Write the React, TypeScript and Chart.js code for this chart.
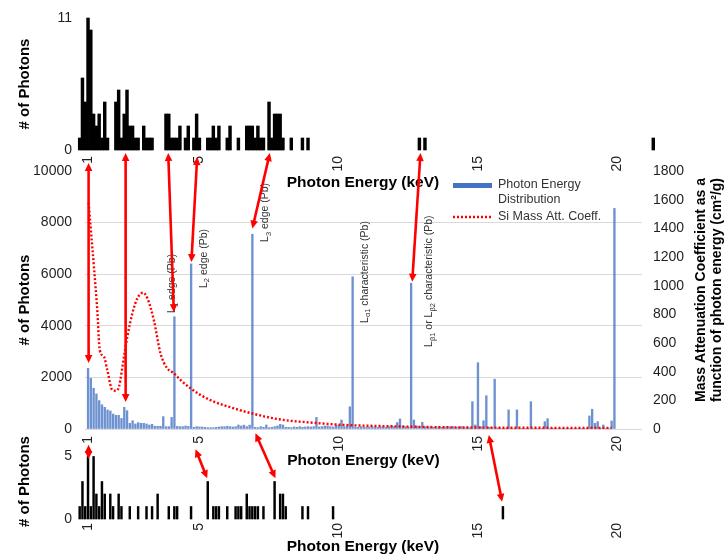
import { useEffect, useRef } from "react";
import { Chart, registerables } from "chart.js";

Chart.register(...registerables);

const WIDTH = 725;
const HEIGHT = 559;
const FONT = "'Liberation Sans', Arial, Helvetica, sans-serif";
const TICK_COLOR = "#1f1f1f";
const TITLE_COLOR = "#000000";
const NOTE_COLOR = "#333333";
const BLUE = "#4472C4";
const BAR_BLUE = "rgba(68,114,196,0.78)";
const RED = "#FF0000";

// Tick positions shared by the three energy axes (keV)
const energyTicks = [1, 5, 10, 15, 20];

// Photon energy distribution: counts per 0.1 keV bin, first bin at 1.0 keV
const spectrumStartKeV = 1.0;
const spectrumBinKeV = 0.1;
const photonCounts = [
  2350, 1965, 1580, 1360, 1100, 940, 840, 740, 700, 580,
  530, 530, 410, 840, 710, 220, 320, 195, 245, 220,
  220, 195, 155, 180, 105, 105, 105, 480, 90, 90,
  450, 4350, 100, 90, 90, 115, 100, 6400, 65, 90,
  78, 78, 65, 52, 52, 52, 65, 78, 90, 90,
  103, 90, 78, 90, 155, 116, 150, 90, 150, 7550,
  65, 52, 90, 65, 155, 52, 65, 90, 116, 180,
  155, 65, 65, 52, 78, 65, 90, 65, 78, 90,
  78, 90, 450, 78, 90, 116, 116, 90, 78, 150,
  150, 350, 90, 116, 860, 5900, 78, 65, 90, 78,
  65, 78, 90, 78, 65, 90, 78, 65, 90, 116,
  100, 250, 390, 116, 90, 78, 5650, 350, 116, 90,
  260, 90, 78, 90, 65, 78, 90, 65, 78, 90,
  78, 90, 65, 78, 90, 65, 78, 52, 1060, 155,
  2570, 90, 320, 1290, 65, 52, 1930, 40, 30, 30,
  30, 740, 30, 20, 740, 20, 30, 20, 30, 1060,
  20, 30, 20, 20, 285, 400, 20, 30, 20, 20,
  20, 20, 30, 20, 20, 20, 20, 20, 30, 20,
  505, 765, 220, 285, 30, 155, 20, 20, 310, 8550,
];

// Si mass attenuation coefficient (cm^2/g) against photon energy (keV)
const siEnergy = [
  1.02, 1.09, 1.21, 1.33, 1.42, 1.57, 1.69, 1.87, 1.99, 2.11, 2.29, 2.41,
  2.59, 2.77, 2.98, 3.13, 3.36, 3.6, 3.84, 4.08, 4.32, 4.68, 5.04, 5.52,
  6.24, 6.64, 7.85, 9.05, 10.25, 11.44, 13.84, 16.0, 18.0, 19.8,
];
const siMassAtt = [
  1580, 1412, 1133, 830, 551, 505, 412, 272, 267, 295, 505, 644,
  807, 912, 951, 912, 761, 528, 424, 389, 342, 284, 237, 191,
  144, 121, 68, 44, 28, 21, 12, 9, 8, 7,
];

// Upper histogram (counts per 0.1 keV)
const upperEnergy = [
  0.7, 0.8, 0.9, 1.0, 1.1, 1.2, 1.3, 1.4, 1.5, 1.6, 1.7,
  2.0, 2.1, 2.2, 2.3, 2.4, 2.5, 2.6, 2.7, 2.8,
  3.0, 3.1, 3.2, 3.3, 3.8, 3.9, 4.0, 4.1, 4.2, 4.3,
  4.5, 4.6, 4.8, 4.9, 5.0, 5.3, 5.4, 5.5, 5.6, 5.7,
  6.0, 6.1, 6.4, 6.7, 6.8, 6.9, 7.0, 7.1, 7.2, 7.3,
  7.5, 7.6, 7.7, 7.8, 7.9, 8.0, 8.3, 8.7, 8.9,
  12.9, 13.1, 21.3,
];
const upperCounts = [
  1, 6, 4, 11, 10, 3, 2, 3, 1, 4, 1,
  4, 5, 1, 3, 5, 2, 2, 1, 1,
  2, 1, 1, 1, 3, 3, 1, 1, 1, 2,
  1, 2, 1, 3, 1, 1, 1, 2, 1, 2,
  1, 2, 1, 2, 2, 2, 1, 2, 1, 1,
  4, 1, 3, 3, 3, 1, 1, 1, 1,
  1, 1, 1,
];

// Lower histogram (counts per 0.1 keV)
const lowerEnergy = [
  0.7, 0.8, 0.9, 1.0, 1.1, 1.2, 1.3, 1.4, 1.5, 1.6, 1.8, 1.9,
  2.1, 2.2, 2.5, 2.8, 3.1, 3.3, 3.5, 3.9, 4.1, 4.2, 4.7,
  5.3, 5.5, 5.6, 5.7, 6.0, 6.3, 6.4, 6.5, 6.7, 6.8, 6.9, 7.0, 7.1, 7.3,
  7.7, 7.9, 8.0, 8.1, 8.7, 8.9, 9.8, 15.9,
];
const lowerCounts = [
  1, 3, 1, 5, 1, 5, 2, 1, 3, 2, 2, 1,
  2, 1, 1, 1, 1, 1, 2, 1, 1, 1, 1,
  3, 1, 1, 1, 1, 1, 1, 1, 2, 1, 1, 1, 1, 1,
  3, 2, 2, 1, 1, 1, 1, 1,
];

type Seg = [string, "" | "sub"];

// Rotated notes beside the Pb lines (anchored at keV / count of the text start)
const lineNotes: { keV: number; count: number; parts: Seg[] }[] = [
  { keV: 4.03, count: 4500, parts: [["L", ""], ["1", "sub"], [" edge (Pb)", ""]] },
  { keV: 5.15, count: 5465, parts: [["L", ""], ["2", "sub"], [" edge (Pb)", ""]] },
  { keV: 7.37, count: 7250, parts: [["L", ""], ["3", "sub"], [" edge (Pb)", ""]] },
  { keV: 10.93, count: 4110, parts: [["L", ""], ["α1", "sub"], [" characteristic (Pb)", ""]] },
  {
    keV: 13.26,
    count: 3180,
    parts: [["L", ""], ["β1", "sub"], [" or L", ""], ["β2", "sub"], [" characteristic (Pb)", ""]],
  },
];

// Double-headed connectors between panels: [panel, keV, value]
type End = ["upper" | "main" | "lower", number, number];
const connectors: [End, End][] = [
  [["upper", 1.02, -1.08], ["main", 1.02, 2560]],
  [["upper", 2.35, -0.25], ["main", 2.35, 1050]],
  [["upper", 3.88, -0.25], ["main", 4.08, 4530]],
  [["upper", 4.92, -0.58], ["main", 4.71, 6470]],
  [["upper", 7.53, -0.25], ["main", 6.9, 7770]],
  [["upper", 12.94, -0.25], ["main", 12.64, 5710]],
  [["lower", 1.02, 5.95], ["lower", 1.02, 4.8]],
  [["lower", 4.86, 5.58], ["lower", 5.28, 3.26]],
  [["main", 7.01, -167], ["lower", 7.73, 3.26]],
  [["main", 15.39, -233], ["lower", 15.87, 1.38]],
];

const plainNumber = (v: any) => String(v);

function energyAxis(min: number, max: number, tickPad: number, height: number, titlePad: number) {
  return {
    type: "linear",
    min,
    max,
    offset: false,
    afterBuildTicks: (s: any) => {
      s.ticks = energyTicks.map((v) => ({ value: v }));
    },
    afterFit: (s: any) => {
      s.height = height;
    },
    ticks: {
      minRotation: 90,
      maxRotation: 90,
      autoSkip: false,
      padding: tickPad,
      color: TICK_COLOR,
      font: { size: 14 },
      callback: plainNumber,
    },
    grid: { display: false, drawTicks: false },
    border: { display: false },
    title: {
      display: true,
      text: "Photon Energy (keV)",
      color: TITLE_COLOR,
      font: { size: 15.5, weight: "bold" },
      padding: { top: 0, bottom: titlePad },
    },
  };
}

function countAxis(max: number, tickValues: number[], width: number, tickPad: number) {
  return {
    type: "linear",
    min: 0,
    max,
    afterBuildTicks: (s: any) => {
      s.ticks = tickValues.map((v) => ({ value: v }));
    },
    afterFit: (s: any) => {
      s.width = width;
    },
    ticks: { padding: tickPad, color: TICK_COLOR, font: { size: 14 }, callback: plainNumber },
    grid: { display: false, drawTicks: false },
    border: { display: false },
    title: {
      display: true,
      text: "# of Photons",
      color: TITLE_COLOR,
      font: { size: 15, weight: "bold" },
      padding: { top: 4, bottom: 4 },
    },
  };
}

function drawRotated(
  ctx: CanvasRenderingContext2D,
  parts: Seg[],
  x: number,
  y: number,
  size: number,
  weight: string,
  centered: boolean
) {
  ctx.save();
  ctx.translate(x, y);
  ctx.rotate(-Math.PI / 2);
  ctx.textBaseline = "middle";
  ctx.textAlign = "left";
  const fontOf = (kind: string) => `${weight} ${kind === "sub" ? size * 0.72 : size}px ${FONT}`;
  let total = 0;
  for (const [t, kind] of parts) {
    ctx.font = fontOf(kind);
    total += ctx.measureText(t).width;
  }
  let cx = centered ? -total / 2 : 0;
  for (const [t, kind] of parts) {
    ctx.font = fontOf(kind);
    ctx.fillText(t, cx, kind === "sub" ? size * 0.32 : 0);
    cx += ctx.measureText(t).width;
  }
  ctx.restore();
}

function arrowHead(ctx: CanvasRenderingContext2D, x: number, y: number, ang: number) {
  const len = 8;
  const half = 3.8;
  const c = Math.cos(ang);
  const s = Math.sin(ang);
  ctx.beginPath();
  ctx.moveTo(x, y);
  ctx.lineTo(x - len * c + half * s, y - len * s - half * c);
  ctx.lineTo(x - len * c - half * s, y - len * s + half * c);
  ctx.closePath();
  ctx.fill();
}

function drawConnector(ctx: CanvasRenderingContext2D, x1: number, y1: number, x2: number, y2: number) {
  const ang = Math.atan2(y2 - y1, x2 - x1);
  const c = Math.cos(ang);
  const s = Math.sin(ang);
  ctx.save();
  ctx.strokeStyle = RED;
  ctx.fillStyle = RED;
  ctx.lineWidth = 2.6;
  ctx.beginPath();
  ctx.moveTo(x1 + 6 * c, y1 + 6 * s);
  ctx.lineTo(x2 - 6 * c, y2 - 6 * s);
  ctx.stroke();
  arrowHead(ctx, x2, y2, ang);
  arrowHead(ctx, x1, y1, ang + Math.PI);
  ctx.restore();
}

function makeOverlay(upper: Chart, lower: Chart) {
  return {
    id: "spectrumOverlay",
    afterDatasetsDraw(chart: any) {
      const ctx: CanvasRenderingContext2D = chart.ctx;
      const xs = chart.scales.x;
      const ys = chart.scales.y;
      ctx.save();
      ctx.fillStyle = NOTE_COLOR;
      for (const n of lineNotes) {
        drawRotated(ctx, n.parts, xs.getPixelForValue(n.keV), ys.getPixelForValue(n.count), 10.5, "", false);
      }
      ctx.restore();
    },
    afterDraw(chart: any) {
      const ctx: CanvasRenderingContext2D = chart.ctx;
      const area = chart.chartArea;
      const [lineSet, barSet] = chart.data.datasets;

      // legend
      const lx = area.left + 368;
      ctx.save();
      ctx.fillStyle = BLUE;
      ctx.fillRect(lx, 183, 39, 5);
      ctx.strokeStyle = lineSet.borderColor;
      ctx.lineWidth = lineSet.borderWidth;
      ctx.setLineDash(lineSet.borderDash);
      ctx.beginPath();
      ctx.moveTo(lx, 217);
      ctx.lineTo(lx + 39, 217);
      ctx.stroke();
      ctx.setLineDash([]);
      ctx.fillStyle = "#333333";
      ctx.font = `12.5px ${FONT}`;
      ctx.textBaseline = "middle";
      ctx.textAlign = "left";
      const barWords = String(barSet.label).split(" ");
      ctx.fillText(barWords.slice(0, 2).join(" "), lx + 45, 185);
      ctx.fillText(barWords.slice(2).join(" "), lx + 45, 200);
      ctx.fillText(lineSet.label, lx + 45, 217);
      ctx.restore();

      // right axis title, two lines reading upward
      ctx.save();
      ctx.fillStyle = TITLE_COLOR;
      const midY = (area.top + area.bottom) / 2 - 10;
      drawRotated(ctx, [["Mass Attenuation Coefficient as a", ""]], 701, midY, 14, "bold", true);
      drawRotated(ctx, [["function of photon energy (cm²/g)", ""]], 717, midY, 14, "bold", true);
      ctx.restore();

      // connectors across the three panels
      const panels: Record<string, any> = { upper, main: chart, lower };
      const px = (e: End) => {
        const c = panels[e[0]];
        return [c.scales.x.getPixelForValue(e[1]), c.scales.y.getPixelForValue(e[2])];
      };
      for (const [a, b] of connectors) {
        const [x1, y1] = px(a);
        const [x2, y2] = px(b);
        drawConnector(ctx, x1, y1, x2, y2);
      }
    },
  };
}

export default function App() {
  const upperRef = useRef<HTMLCanvasElement>(null);
  const lowerRef = useRef<HTMLCanvasElement>(null);
  const mainRef = useRef<HTMLCanvasElement>(null);

  useEffect(() => {
    Chart.defaults.font.family = FONT;

    const common = {
      responsive: false,
      animation: false,
      devicePixelRatio: 1,
      events: [],
      plugins: { legend: { display: false }, tooltip: { enabled: false } },
    };

    const upper = new Chart(upperRef.current as HTMLCanvasElement, {
      type: "bar",
      data: {
        datasets: [
          {
            label: "Upper",
            data: upperEnergy.map((x, i) => ({ x, y: upperCounts[i] })),
            backgroundColor: "#000000",
            barThickness: 2.8,
            clip: false,
          },
        ],
      },
      options: {
        ...common,
        layout: { padding: { left: 12, top: 18, right: 77, bottom: 362.7 } },
        scales: {
          x: energyAxis(0.64, 21.11, 6, 46.3, 4),
          y: countAxis(11, [0, 11], 66, 6),
        },
      },
    } as any);

    const lower = new Chart(lowerRef.current as HTMLCanvasElement, {
      type: "bar",
      data: {
        datasets: [
          {
            label: "Lower",
            data: lowerEnergy.map((x, i) => ({ x, y: lowerCounts[i] })),
            backgroundColor: "#000000",
            barThickness: 1.8,
            clip: false,
          },
        ],
      },
      options: {
        ...common,
        layout: { padding: { left: 12, top: 444, right: 77, bottom: 0.7 } },
        scales: {
          x: energyAxis(0.64, 21.11, 4, 39.3, 2),
          y: countAxis(6, [0, 5], 66, 6),
        },
      },
    } as any);

    const main = new Chart(mainRef.current as HTMLCanvasElement, {
      type: "bar",
      data: {
        datasets: [
          {
            type: "line",
            label: "Si Mass Att. Coeff.",
            data: siEnergy.map((x, i) => ({ x, y: siMassAtt[i] })),
            yAxisID: "y1",
            borderColor: RED,
            borderWidth: 2.4,
            borderDash: [2, 2],
            pointRadius: 0,
            cubicInterpolationMode: "monotone",
            fill: false,
            order: 0,
          },
          {
            type: "bar",
            label: "Photon Energy Distribution",
            data: photonCounts.map((y, i) => ({
              x: Math.round((spectrumStartKeV + i * spectrumBinKeV) * 10) / 10,
              y,
            })),
            yAxisID: "y",
            backgroundColor: BAR_BLUE,
            barThickness: 1.7,
            order: 1,
          },
        ],
      },
      options: {
        ...common,
        layout: { padding: { left: 12, top: 171, right: 23, bottom: 84.7 } },
        scales: {
          x: energyAxis(0.89, 20.89, 7, 45.3, 4),
          y: {
            type: "linear",
            position: "left",
            min: 0,
            max: 10000,
            afterFit: (s: any) => {
              s.width = 73;
            },
            ticks: { stepSize: 2000, padding: 13, color: TICK_COLOR, font: { size: 14 }, callback: plainNumber },
            grid: {
              drawTicks: false,
              lineWidth: 1,
              color: (c: any) => (c.tick && c.tick.value === 10000 ? "rgba(0,0,0,0)" : "#d9d9d9"),
            },
            border: { display: false },
            title: {
              display: true,
              text: "# of Photons",
              color: TITLE_COLOR,
              font: { size: 15, weight: "bold" },
              padding: { top: 4, bottom: 4 },
            },
          },
          y1: {
            type: "linear",
            position: "right",
            min: 0,
            max: 1800,
            afterFit: (s: any) => {
              s.width = 60;
            },
            ticks: { stepSize: 200, padding: 11, color: TICK_COLOR, font: { size: 14 }, callback: plainNumber },
            grid: { display: false, drawTicks: false },
            border: { display: false },
          },
        },
      },
      plugins: [makeOverlay(upper, lower)],
    } as any);

    return () => {
      main.destroy();
      lower.destroy();
      upper.destroy();
    };
  }, []);

  const canvasStyle = { position: "absolute" as const, left: 0, top: 0 };
  return (
    <div
      style={{
        position: "absolute",
        left: 0,
        top: 0,
        width: WIDTH,
        height: HEIGHT,
        background: "#ffffff",
        overflow: "hidden",
      }}
    >
      <canvas ref={upperRef} width={WIDTH} height={HEIGHT} style={canvasStyle} />
      <canvas ref={lowerRef} width={WIDTH} height={HEIGHT} style={canvasStyle} />
      <canvas ref={mainRef} width={WIDTH} height={HEIGHT} style={canvasStyle} />
    </div>
  );
}
